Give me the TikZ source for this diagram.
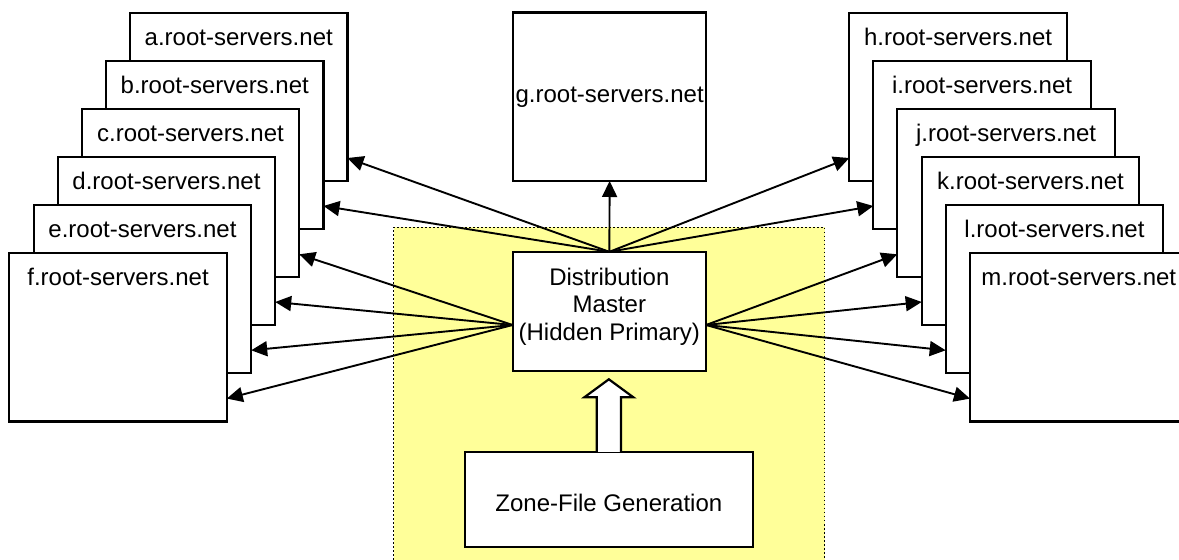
\documentclass[tikz,border=0pt]{standalone}
\usepackage{fontspec}
\setmainfont{Liberation Sans}
\usetikzlibrary{arrows.meta}
\definecolor{zoneyellow}{HTML}{FFFF99}
\tikzset{srv/.style={draw,fill=white,line width=1.1pt,anchor=north west,inner sep=0pt,outer sep=0pt,minimum width=108.75pt,minimum height=84.15pt},
	 box/.style={draw,fill=white,line width=1.1pt,anchor=north west,inner sep=0pt,outer sep=0pt,align=center},
	 nlabel/.style={anchor=base,yshift=-16.2pt,inner sep=0pt},
	 conn/.style={line width=0.95pt,-{Triangle[length=8pt,width=7.5pt]}},
	 fatarr/.style={draw,fill=white,line width=1.1pt}
	 }

\begin{document}
\begin{tikzpicture}[x=0.5pt,y=-0.5pt,font=\fontsize{12}{13.8}\selectfont]
      \useasboundingbox (0,0) rectangle (1179,560);
      \clip (0,0) rectangle (1179,560);
      % hidden primary area
      \fill[zoneyellow] (393.5,227.5) rectangle (824.5,580);
      \draw[line width=0.75pt,dash pattern=on 0.75pt off 1.25pt] (393.5,580) -- (393.5,227.5) -- (824.5,227.5) -- (824.5,580);
      % left stack
      \node[srv] (a) at (130,12.7) [label={[nlabel]north:a.root-servers.net}] {};
      \node[srv] (b) at (106,60.7) [label={[nlabel]north:b.root-servers.net}] {};
      \node[srv] (c) at (81.7,109) [label={[nlabel]north:c.root-servers.net}] {};
      \node[srv] (d) at (57.7,156.7) [label={[nlabel]north:d.root-servers.net}] {};
      \node[srv] (e) at (33.7,205) [label={[nlabel]north:e.root-servers.net}] {};
      \node[srv] (f) at (9.3,253.3) [label={[nlabel]north:f.root-servers.net}] {};
      % right stack
      \node[srv] (h) at (849.3,12.7) [label={[nlabel]north:h.root-servers.net}] {};
      \node[srv] (i) at (873.3,60.7) [label={[nlabel]north:i.root-servers.net}] {};
      \node[srv] (j) at (897.3,109) [label={[nlabel]north:j.root-servers.net}] {};
      \node[srv] (k) at (921.7,156.7) [label={[nlabel]north:k.root-servers.net}] {};
      \node[srv] (l) at (945.7,205) [label={[nlabel]north:l.root-servers.net}] {};
      \node[srv] (m) at (970,253.3) [label={[nlabel]north:m.root-servers.net}] {};
      % middle column
      \node[box,minimum width=96.35pt,minimum height=84.25pt] (g) at (513.3,12.5) {g.root-servers.net};
      \node[box,minimum width=96.65pt,minimum height=59.8pt] (dm) at (512.7,251.8)
            [label={[align=center,inner sep=0pt,yshift=2.5pt]center:Distribution\\Master\\(Hidden Primary)}] {};
      \node[box,minimum width=143.85pt,minimum height=47.65pt,text height=12.5pt,text depth=0pt] (zone) at (465,451.8) {Zone-File Generation};
      \draw[fatarr] ([xshift=-6.1pt]zone.north) -- ++(0,27.25pt) -- ++(-6.15pt,0) -- ++(12.25pt,9pt)
            -- ++(12.25pt,-9pt) -- ++(-6.15pt,0) -- ++(0,-27.25pt);
      % distribution
      \draw[conn] (dm.north) -- (g.south);
      \draw[conn] (dm.north) -- ([yshift=11.5pt]a.south east);
      \draw[conn] (dm.north) -- ([yshift=11.5pt]b.south east);
      \draw[conn] ([yshift=-6.7pt]dm.west) -- ([yshift=11.5pt]c.south east);
      \draw[conn] ([yshift=-6.7pt]dm.west) -- ([yshift=11.5pt]d.south east);
      \draw[conn] ([yshift=-6.7pt]dm.west) -- ([yshift=11.5pt]e.south east);
      \draw[conn] ([yshift=-6.7pt]dm.west) -- ([yshift=11.5pt]f.south east);
      \draw[conn] (dm.north) -- ([yshift=11.5pt]h.south west);
      \draw[conn] (dm.north) -- ([yshift=11.5pt]i.south west);
      \draw[conn] ([yshift=-6.7pt]dm.east) -- ([yshift=11.5pt]j.south west);
      \draw[conn] ([yshift=-6.7pt]dm.east) -- ([yshift=11.5pt]k.south west);
      \draw[conn] ([yshift=-6.7pt]dm.east) -- ([yshift=11.5pt]l.south west);
      \draw[conn] ([yshift=-6.7pt]dm.east) -- ([yshift=11.5pt]m.south west);
\end{tikzpicture}
\end{document}
